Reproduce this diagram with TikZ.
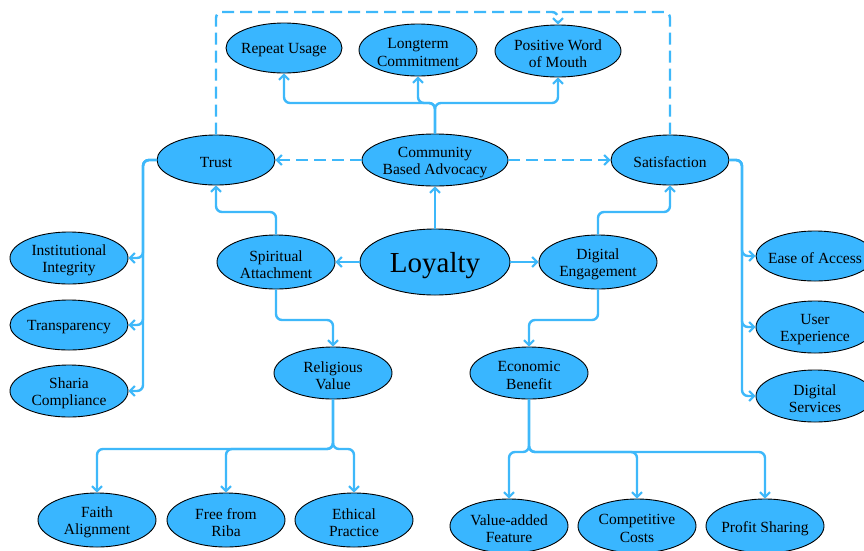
\documentclass[tikz,border=0pt]{standalone}
\usepackage{fontspec}
\setmainfont{Liberation Serif}
\usetikzlibrary{arrows.meta,shapes.geometric}
\definecolor{fillc}{RGB}{57,182,255}
\definecolor{linec}{RGB}{62,184,250}
\begin{document}
\begin{tikzpicture}[x=1pt,y=-1pt,
  ell/.style={ellipse,draw=black,line width=0.9pt,fill=fillc,inner sep=0pt,
    minimum width=118pt,minimum height=52pt},
  lbl/.style={align=center,inner sep=0pt,yshift=-2.5pt,font=\fontsize{15.5}{17.5}\selectfont},
  conn/.style={draw=linec,line width=2.4pt,rounded corners=6pt,
    -{Straight Barb[length=5pt,width=10pt,line width=2pt]}},
  plain/.style={draw=linec,line width=2.4pt,rounded corners=6pt},
  dconn/.style={conn,dash pattern=on 12pt off 6pt},
  dplain/.style={plain,dash pattern=on 12pt off 6pt}]
\useasboundingbox (0,0) rectangle (864,550);
\fill[white] (0,0) rectangle (864,550);
% nodes
\node[ell,minimum width=116pt,minimum height=50pt,label={[lbl]center:{Repeat Usage}}] (ru) at (284,48) {};
\node[ell,label={[lbl]center:{Longterm\\Commitment}}] (lc) at (418,50) {};
\node[ell,minimum width=126pt,label={[lbl]center:{Positive Word\\of Mouth}}] (pw) at (558,51) {};
\node[ell,minimum height=50pt,label={[lbl]center:{Trust}}] (trust) at (216,160) {};
\node[ell,minimum width=146pt,label={[lbl]center:{Community\\Based Advocacy}}] (cba) at (435,160) {};
\node[ell,minimum height=50pt,label={[lbl]center:{Satisfaction}}] (sat) at (670,160) {};
\node[ell,minimum height=54pt,label={[lbl]center:{Spiritual\\Attachment}}] (sa) at (276,262) {};
\node[ell,minimum width=150pt,minimum height=66pt,label={[lbl,yshift=-1pt,font=\fontsize{29}{32}\selectfont]center:{Loyalty}}] (loy) at (435,262) {};
\node[ell,minimum height=54pt,label={[lbl]center:{Digital\\Engagement}}] (de) at (598,262) {};
\node[ell,label={[lbl]center:{Institutional\\Integrity}}] (ii) at (69,258) {};
\node[ell,minimum height=50pt,label={[lbl]center:{Transparency}}] (tr) at (69,325) {};
\node[ell,label={[lbl]center:{Sharia\\Compliance}}] (sc) at (69,391) {};
\node[ell,minimum height=50pt,label={[lbl]center:{Ease of Access}}] (ea) at (815,256) {};
\node[ell,label={[lbl]center:{User\\Experience}}] (ux) at (815,327) {};
\node[ell,label={[lbl]center:{Digital\\Services}}] (ds) at (815,396) {};
\node[ell,label={[lbl]center:{Religious\\Value}}] (rv) at (333,373) {};
\node[ell,label={[lbl]center:{Economic\\Benefit}}] (eb) at (529,373) {};
\node[ell,minimum height=54pt,label={[lbl]center:{Faith\\Alignment}}] (fa) at (97,520) {};
\node[ell,minimum height=54pt,label={[lbl]center:{Free from\\Riba}}] (fr) at (226,520) {};
\node[ell,minimum height=54pt,label={[lbl]center:{Ethical\\Practice}}] (ep) at (354,520) {};
\node[ell,minimum height=54pt,label={[lbl]center:{Value-added\\Feature}}] (va) at (509,526) {};
\node[ell,minimum height=54pt,label={[lbl]center:{Competitive\\Costs}}] (cc) at (637,526) {};
\node[ell,minimum height=54pt,label={[lbl]center:{Profit Sharing}}] (ps) at (765,526) {};
% junction coordinates
\coordinate (jc) at (435,103);
\coordinate (jtop) at (558,12);
\coordinate (jt) at (143,160);
\coordinate (js) at (742,160);
\coordinate (jsa) at (276,212);
\coordinate (jde) at (598,212);
\coordinate (jsa2) at (276,320);
\coordinate (jde2) at (598,320);
\coordinate (jrv) at (333,449);
\coordinate (jeb) at (529,452);
% community advocacy outcomes
\draw[conn] (cba.north) -- (jc) -| (ru.south);
\draw[conn] (cba.north) -- (jc) -| (lc.south);
\draw[conn] (cba.north) -- (jc) -| (pw.south);
% dashed
\draw[dconn] (trust.north) |- (jtop) -- (pw.north);
\draw[dplain] (sat.north) |- (jtop);
\draw[dconn] (cba.west) -- (trust.east);
\draw[dconn] (cba.east) -- (sat.west);
% loyalty
\draw[conn] (loy.north) -- (cba.south);
\draw[conn] (loy.west) -- (sa.east);
\draw[conn] (loy.east) -- (de.west);
\draw[conn] (sa.north) -- (jsa) -| (trust.south);
\draw[conn] (de.north) -- (jde) -| (sat.south);
\draw[conn] (sa.south) -- (jsa2) -| (rv.north);
\draw[conn] (de.south) -- (jde2) -| (eb.north);
% trust branches
\draw[conn] (trust.west) -- (jt) |- (ii.east);
\draw[conn] (trust.west) -- (jt) |- (tr.east);
\draw[conn] (trust.west) -- (jt) |- (sc.east);
% satisfaction branches
\draw[conn] (sat.east) -- (js) |- (ea.west);
\draw[conn] (sat.east) -- (js) |- (ux.west);
\draw[conn] (sat.east) -- (js) |- (ds.west);
% religious value branches
\draw[conn] (rv.south) -- (jrv) -| (fa.north);
\draw[conn] (rv.south) -- (jrv) -| (fr.north);
\draw[conn] (rv.south) -- (jrv) -| (ep.north);
% economic benefit branches
\draw[conn] (eb.south) -- (jeb) -| (va.north);
\draw[conn] (eb.south) -- (jeb) -| (cc.north);
\draw[conn] (eb.south) -- (jeb) -| (ps.north);
\end{tikzpicture}
\end{document}
